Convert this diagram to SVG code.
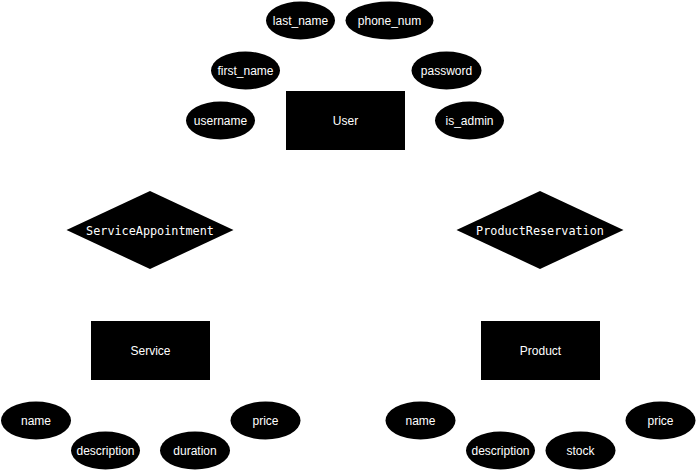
<svg xmlns="http://www.w3.org/2000/svg" width="696" height="471" viewBox="0 0 696 471">
<style>
.ent{fill:#000}
.att{fill:#000}
.rel{fill:#000}
.t{font-family:"Liberation Sans",Arial,sans-serif;font-size:12px;fill:#fff;text-anchor:middle;dominant-baseline:central}
.m{font-family:"DejaVu Sans Mono",monospace;font-size:11.8px;fill:#fff;text-anchor:middle;dominant-baseline:central}
.c{stroke:#fff;stroke-width:1;fill:none}
</style>
<rect width="696" height="471" fill="#fff"/>
<g id="connectors">
<line class="c" x1="345" y1="120" x2="300.5" y2="20.5"/>
<line class="c" x1="345" y1="120" x2="389.5" y2="20"/>
<line class="c" x1="345" y1="120" x2="245.5" y2="70"/>
<line class="c" x1="345" y1="120" x2="220.5" y2="120"/>
<line class="c" x1="345" y1="120" x2="446.5" y2="70"/>
<line class="c" x1="345" y1="120" x2="469" y2="120"/>
<line class="c" x1="345" y1="120" x2="150" y2="230"/>
<line class="c" x1="345" y1="120" x2="540" y2="230"/>
<line class="c" x1="150" y1="230" x2="150.5" y2="350"/>
<line class="c" x1="540" y1="230" x2="540.5" y2="350"/>
<line class="c" x1="150.5" y1="350" x2="36" y2="420.5"/>
<line class="c" x1="150.5" y1="350" x2="105.5" y2="450.5"/>
<line class="c" x1="150.5" y1="350" x2="195" y2="450.5"/>
<line class="c" x1="150.5" y1="350" x2="265.5" y2="420"/>
<line class="c" x1="540.5" y1="350" x2="420" y2="420"/>
<line class="c" x1="540.5" y1="350" x2="500.5" y2="450"/>
<line class="c" x1="540.5" y1="350" x2="580.5" y2="450"/>
<line class="c" x1="540.5" y1="350" x2="660.5" y2="420"/>
</g>
<g id="User"><rect class="ent" x="286" y="91" width="119" height="59"/><text class="t" x="345.5" y="120.5">User</text></g>
<g id="User_last_name"><ellipse class="att" cx="300.5" cy="20.5" rx="34.5" ry="19"/><text class="t" x="300.5" y="20.5">last_name</text></g>
<g id="User_phone_num"><ellipse class="att" cx="389.5" cy="20.5" rx="44" ry="19"/><text class="t" x="389.5" y="20.5">phone_num</text></g>
<g id="User_first_name"><ellipse class="att" cx="245.5" cy="70.5" rx="34.5" ry="19"/><text class="t" x="245.5" y="70.5">first_name</text></g>
<g id="User_username"><ellipse class="att" cx="220.5" cy="120.5" rx="34.5" ry="19"/><text class="t" x="220.5" y="120.5">username</text></g>
<g id="User_password"><ellipse class="att" cx="446.5" cy="70.5" rx="35" ry="19"/><text class="t" x="446.5" y="70.5">password</text></g>
<g id="User_is_admin"><ellipse class="att" cx="469.5" cy="120.5" rx="34.5" ry="19"/><text class="t" x="469.5" y="120.5">is_admin</text></g>
<g id="ServiceAppointment"><polygon class="rel" points="150,191 233.5,230 150,269 66.5,230"/><text class="m" x="150" y="230.5">ServiceAppointment</text></g>
<g id="ProductReservation"><polygon class="rel" points="540,191 623.5,230 540,269 456.5,230"/><text class="m" x="540" y="230.5">ProductReservation</text></g>
<g id="Service"><rect class="ent" x="91" y="321" width="119" height="59"/><text class="t" x="150.5" y="350.5">Service</text></g>
<g id="Product"><rect class="ent" x="481" y="321" width="119" height="59"/><text class="t" x="540.5" y="350.5">Product</text></g>
<g id="Service_name"><ellipse class="att" cx="36" cy="420.5" rx="35" ry="19"/><text class="t" x="36" y="420.5">name</text></g>
<g id="Service_description"><ellipse class="att" cx="105.5" cy="450.5" rx="34.5" ry="19"/><text class="t" x="105.5" y="450.5">description</text></g>
<g id="Service_duration"><ellipse class="att" cx="195" cy="450.5" rx="35" ry="19"/><text class="t" x="195" y="450.5">duration</text></g>
<g id="Service_price"><ellipse class="att" cx="265.5" cy="420.5" rx="35" ry="19"/><text class="t" x="265.5" y="420.5">price</text></g>
<g id="Product_name"><ellipse class="att" cx="420.5" cy="420.5" rx="35" ry="19"/><text class="t" x="420.5" y="420.5">name</text></g>
<g id="Product_description"><ellipse class="att" cx="500.5" cy="450.5" rx="34.5" ry="19"/><text class="t" x="500.5" y="450.5">description</text></g>
<g id="Product_stock"><ellipse class="att" cx="580.5" cy="450.5" rx="35" ry="19"/><text class="t" x="580.5" y="450.5">stock</text></g>
<g id="Product_price"><ellipse class="att" cx="660.5" cy="420.5" rx="35" ry="19"/><text class="t" x="660.5" y="420.5">price</text></g>
</svg>
